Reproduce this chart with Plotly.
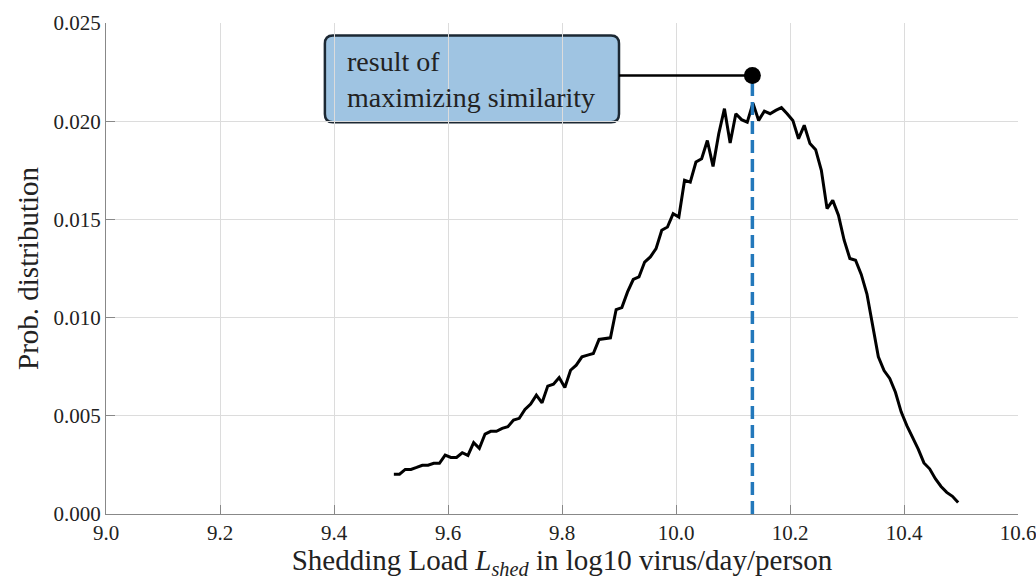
import plotly.graph_objects as go

# ---- data ----
shed_load = [round(9.505 + 0.01 * i, 3) for i in range(100)]
prob = [
    0.00203, 0.00203, 0.00227, 0.00227, 0.00237, 0.00248, 0.00248, 0.00258, 0.00258, 0.00300,
    0.00288, 0.00288, 0.00312, 0.00298, 0.00363, 0.00334, 0.00407, 0.00421, 0.00421, 0.00436,
    0.00444, 0.00478, 0.00487, 0.00532, 0.00560, 0.00605, 0.00566, 0.00651, 0.00661, 0.00695,
    0.00644, 0.00732, 0.00758, 0.00800, 0.00809, 0.00817, 0.00889, 0.00894, 0.00897, 0.01041,
    0.01051, 0.01131, 0.01194, 0.01207, 0.01283, 0.01309, 0.01351, 0.01445, 0.01461, 0.01529,
    0.01512, 0.01699, 0.01690, 0.01792, 0.01809, 0.01902, 0.01770, 0.01936, 0.02064, 0.01889,
    0.02038, 0.02008, 0.01995, 0.02092, 0.02004, 0.02051, 0.02038, 0.02055, 0.02069, 0.02038,
    0.02004, 0.01911, 0.01979, 0.01886, 0.01855, 0.01750, 0.01555, 0.01597, 0.01521, 0.01394,
    0.01301, 0.01292, 0.01220, 0.01120, 0.00970, 0.00800, 0.00730, 0.00690, 0.00620, 0.00520,
    0.00450, 0.00390, 0.00330, 0.00260, 0.00230, 0.00180, 0.00140, 0.00110, 0.00090, 0.00058,
]
best_x = 10.134
best_y = 0.02233
x_ticks = [9.0, 9.2, 9.4, 9.6, 9.8, 10.0, 10.2, 10.4, 10.6]
x_tick_labels = ["9.0", "9.2", "9.4", "9.6", "9.8", "10.0", "10.2", "10.4", "10.6"]
y_ticks = [0.0, 0.005, 0.010, 0.015, 0.020, 0.025]
y_tick_labels = ["0.000", "0.005", "0.010", "0.015", "0.020", "0.025"]
note_text = "result of<br>maximizing similarity"

SERIF = "Liberation Serif"
TXT = "#222222"

fig = go.Figure()

fig.add_trace(go.Scatter(
    x=shed_load, y=prob, mode="lines",
    line=dict(color="black", width=3),
    showlegend=False, hoverinfo="skip",
))

fig.add_trace(go.Scatter(
    x=[best_x, best_x], y=[0, best_y], mode="lines",
    line=dict(color="#2378bb", width=3.5, dash="13px,6px"),
    showlegend=False, hoverinfo="skip",
))

# box geometry (data units)
bx0, bx1 = 9.384, 9.900
by0, by1 = 0.01995, 0.02436
rx, ry = 0.014, 0.00042

fig.add_trace(go.Scatter(
    x=[bx1, best_x], y=[best_y, best_y], mode="lines",
    line=dict(color="black", width=2.5),
    showlegend=False, hoverinfo="skip",
))
fig.add_trace(go.Scatter(
    x=[best_x], y=[best_y], mode="markers",
    marker=dict(color="black", size=17),
    showlegend=False, hoverinfo="skip",
))

path = (
    f"M {bx0+rx},{by1} L {bx1-rx},{by1} Q {bx1},{by1} {bx1},{by1-ry} "
    f"L {bx1},{by0+ry} Q {bx1},{by0} {bx1-rx},{by0} "
    f"L {bx0+rx},{by0} Q {bx0},{by0} {bx0},{by0+ry} "
    f"L {bx0},{by1-ry} Q {bx0},{by1} {bx0+rx},{by1} Z"
)
fig.add_shape(type="path", path=path, xref="x", yref="y",
              fillcolor="#9fc4e2", line=dict(color="#1c2833", width=2.5),
              layer="below")

fig.add_annotation(
    x=9.419, y=0.02213, xref="x", yref="y", text=note_text,
    showarrow=False, xanchor="left", yanchor="middle", align="left",
    font=dict(family=SERIF, size=28, color=TXT),
)

fig.update_layout(
    width=1036, height=580,
    margin=dict(l=106, r=18, t=23, b=66),
    paper_bgcolor="white", plot_bgcolor="white",
    font=dict(family=SERIF, color=TXT, size=21),
)

fig.update_xaxes(
    range=[9.0, 10.6], tickvals=x_ticks, ticktext=x_tick_labels,
    tickfont=dict(size=21, family=SERIF, color=TXT),
    ticklabeloverflow="allow", automargin=False,
    showgrid=True, gridcolor="#dcdcdc", gridwidth=1,
    showline=True, linecolor="#888888", linewidth=1.2,
    ticks="inside", ticklen=9, tickcolor="#888888", tickwidth=1.2,
    zeroline=False,
    title=dict(text="Shedding Load <i>L</i><sub><i>shed</i></sub> in log10 virus/day/person",
               font=dict(size=29, family=SERIF, color=TXT), standoff=4),
)
fig.update_yaxes(
    range=[0.0, 0.025], tickvals=y_ticks, ticktext=y_tick_labels,
    tickfont=dict(size=21, family=SERIF, color=TXT),
    ticklabeloverflow="allow", automargin=False,
    showgrid=True, gridcolor="#dcdcdc", gridwidth=1,
    showline=True, linecolor="#888888", linewidth=1.2,
    ticks="inside", ticklen=9, tickcolor="#888888", tickwidth=1.2,
    zeroline=False,
    title=dict(text="Prob. distribution",
               font=dict(size=29, family=SERIF, color=TXT), standoff=6),
)

fig.write_html("out.html")
